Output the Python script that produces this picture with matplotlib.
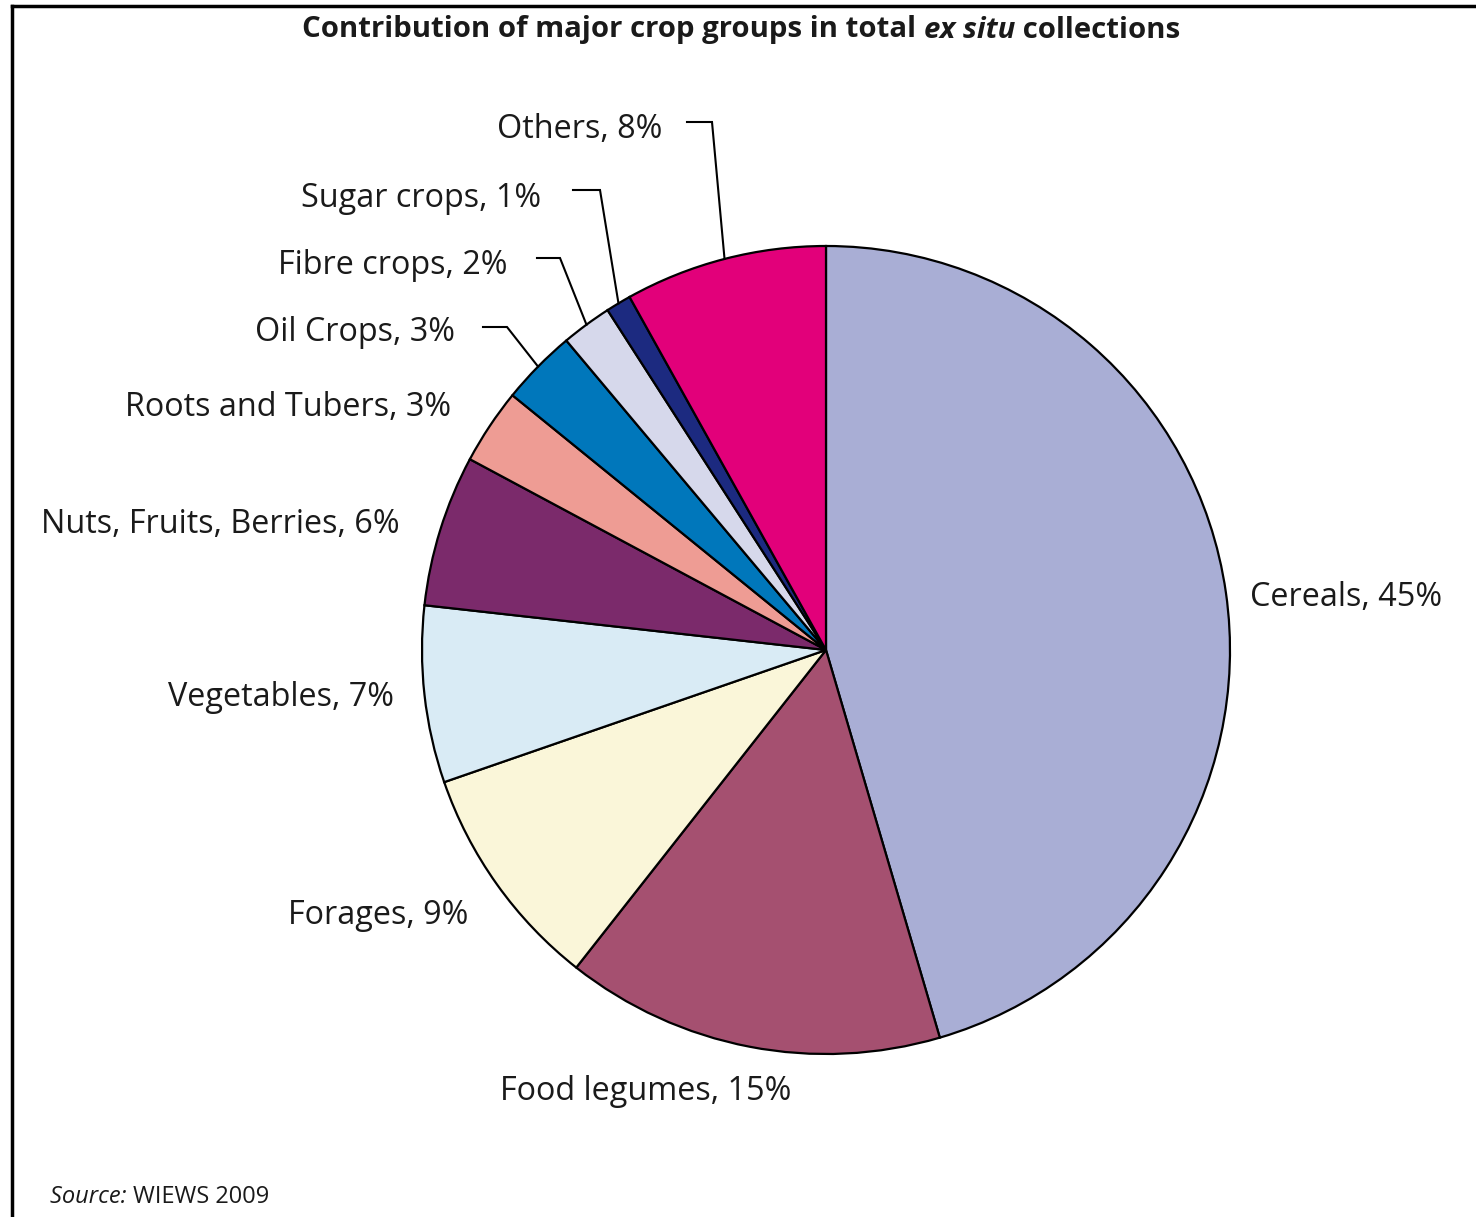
import matplotlib
matplotlib.use("Agg")

import matplotlib.pyplot as plt
import numpy as np

# data
groups = ["Cereals", "Food legumes", "Forages", "Vegetables",
          "Nuts, Fruits, Berries", "Roots and Tubers", "Oil Crops",
          "Fibre crops", "Sugar crops", "Others"]
shares = [45, 15, 9, 7, 6, 3, 3, 2, 1, 8]
colors = ["#A9AED5", "#A55070", "#FAF6D9", "#D9EBF5", "#7B2A6B",
          "#EE9C94", "#0077BB", "#D6D8EB", "#1C2A80", "#E2007A"]

W, H = 1476, 1217
CX, CY, R = 826, 650, 404


def px(x, y):
    # pixel position (from top-left) -> data units of the pie
    return (x - CX) / R, (CY - y) / R


def pieces(fig, x, y, parts, ha="left", **kw):
    # draw text pieces side by side in pixel coords, each with its own style
    rend = fig.canvas.get_renderer()
    items = []
    for s, style in parts:
        t = fig.text(0, 1 - y / H, s, va="center", ha="left", **kw, **style)
        items.append((t, t.get_window_extent(rend).width))
    total = sum(w for _, w in items)
    cur = x - total / 2 if ha == "center" else x
    for t, w in items:
        t.set_x(cur / W)
        cur += w


plt.rcParams["font.family"] = ["Open Sans", "DejaVu Sans"]
TXT = "#1a1a1a"

fig = plt.figure(figsize=(W / 100, H / 100), dpi=100)
ax = fig.add_axes([0, 0, 1, 1])

wedges, _ = ax.pie(shares, colors=colors, startangle=90, counterclock=False,
                   radius=1, center=(0, 0),
                   wedgeprops=dict(edgecolor="black", linewidth=1.6))
ax.set_xlim(-CX / R, (W - CX) / R)
ax.set_ylim(-(H - CY) / R, CY / R)
ax.set_aspect("equal")
ax.axis("off")

labels = [f"{g}, {s}%" for g, s in zip(groups, shares)]

# plain labels: (x, y, ha)
plain_pos = {
    "Cereals": (1250, 598, "left"),
    "Food legumes": (500, 1091, "left"),
    "Forages": (468, 916, "right"),
    "Vegetables": (394, 698, "right"),
    "Nuts, Fruits, Berries": (400, 525, "right"),
    "Roots and Tubers": (451, 408, "right"),
}
# leader labels: text right end x, y, elbow start x, elbow end x, line y
leader_pos = {
    "Oil Crops": (455, 333, 483, 507, 327),
    "Fibre crops": (507, 266, 537, 560, 258),
    "Sugar crops": (541, 199, 573, 600, 190),
    "Others": (662, 130, 687, 712, 122),
}

fs = 23.3
for w, g, lab in zip(wedges, groups, labels):
    if g in plain_pos:
        x, y, ha = plain_pos[g]
        ax.text(*px(x, y), lab, ha=ha, va="center", fontsize=fs, color=TXT)
    else:
        tx, ty, x0, x1, ly = leader_pos[g]
        ax.text(*px(tx, ty), lab, ha="right", va="center", fontsize=fs, color=TXT)
        mid = np.deg2rad((w.theta1 + w.theta2) / 2)
        ex, ey = np.cos(mid), np.sin(mid)
        ax0, ay0 = px(x0, ly)
        ax1, ay1 = px(x1, ly)
        ax.plot([ax0, ax1, ex], [ay0, ay1, ey], color="black", lw=1.5,
                solid_joinstyle="miter")

pieces(fig, 741, 30, [
    ("Contribution of major crop groups in total ", {}),
    ("ex situ", {"style": "italic"}),
    (" collections", {}),
], ha="center", fontsize=21.2, fontweight="bold", color=TXT)

pieces(fig, 50, 1197, [
    ("Source: ", {"style": "italic"}),
    ("WIEWS 2009", {}),
], fontsize=17, color=TXT)

# frame (left and top edges of the cropped box)
fig.add_artist(plt.Line2D([11.5 / W, 11.5 / W], [0, 1 - 6 / H], color="black", lw=2.5))
fig.add_artist(plt.Line2D([11.5 / W, 1], [1 - 6 / H, 1 - 6 / H], color="black", lw=2.5))

fig.savefig("out.png", dpi=100)
